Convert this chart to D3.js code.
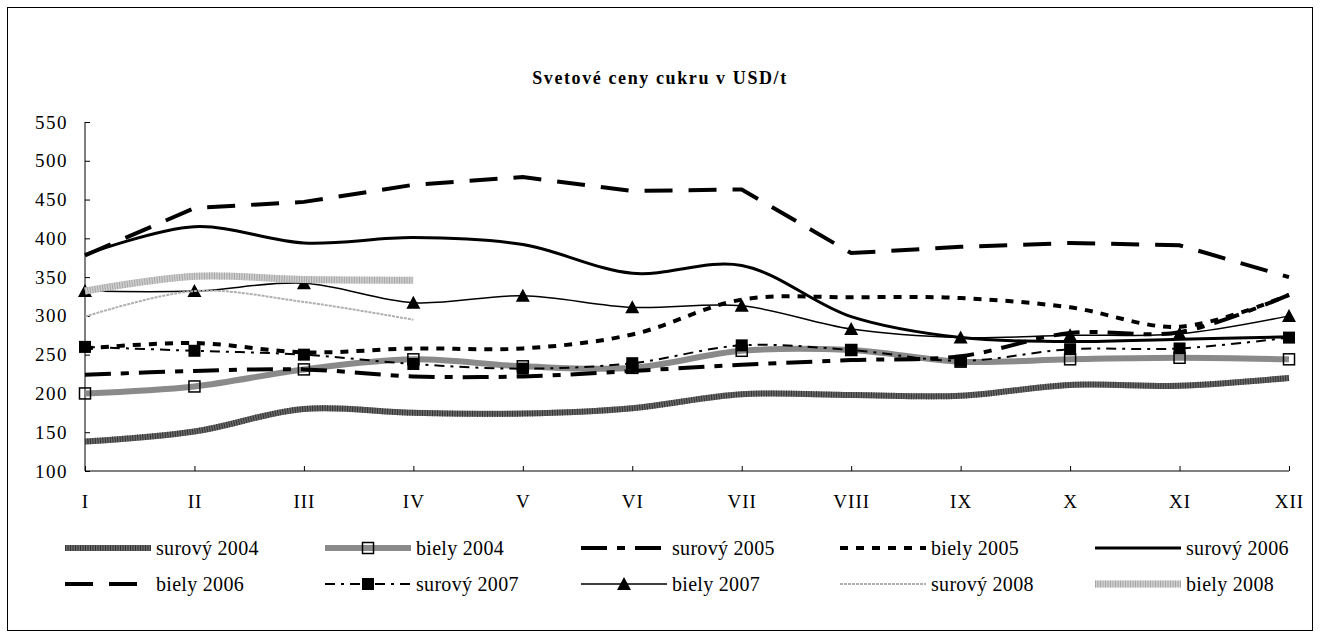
<!DOCTYPE html>
<html>
<head>
<meta charset="utf-8">
<script src="https://cdn.jsdelivr.net/npm/d3@7"></script>
<style>
  body { margin: 0; background: #fff; }
  text { font-family: "Liberation Serif", "Times New Roman", Times, serif; fill: #000; }
</style>
</head>
<body>
<svg width="1320" height="638"></svg>
<script>
"use strict";

var serif = "'Liberation Serif', 'Times New Roman', Times, serif";

// Months (x categories)
var months = ["I", "II", "III", "IV", "V", "VI", "VII", "VIII", "IX", "X", "XI", "XII"];

// Y axis ticks
var yTicks = [100, 150, 200, 250, 300, 350, 400, 450, 500, 550];

// Series values (USD/t)
var surovy2004 = [138, 151, 180, 175, 174, 181, 199, 198, 197, 211, 210, 220];
var biely2004  = [200, 209, 231, 244, 235, 233, 255, 256, 241, 244, 246, 244];
var surovy2005 = [224, 229, 231, 222, 222, 229, 237, 243, 248, 278, 279, 327];
var biely2005  = [258, 265, 253, 258, 258, 276, 321, 324, 323, 311, 286, 327];
var surovy2006 = [379, 415, 394, 401, 392, 355, 365, 299, 272, 267, 270, 273];
var biely2006  = [378, 439, 447, 469, 479, 461, 463, 381, 389, 394, 391, 350];
var surovy2007 = [260, 255, 250, 238, 232, 239, 262, 256, 242, 257, 258, 272];
var biely2007  = [332, 332, 342, 317, 326, 311, 313, 283, 272, 275, 277, 300];
var surovy2008 = [299, 332, 318, 295];
var biely2008  = [332, 351, 347, 346];

var seriesNames = ["surový 2004", "biely 2004", "surový 2005", "biely 2005", "surový 2006",
                   "biely 2006", "surový 2007", "biely 2007", "surový 2008", "biely 2008"];
var seriesValues = [surovy2004, biely2004, surovy2005, biely2005, surovy2006,
                    biely2006, surovy2007, biely2007, surovy2008, biely2008];

// Line styles, one per series (same order)
var styles = [
    { stroke: "#6a6a6a", width: 6, hatch: "#333" },
    { stroke: "#8a8a8a", width: 6, marker: "openSquare" },
    { stroke: "#000", width: 4, dash: "26,10,8,10" },
    { stroke: "#000", width: 4, dash: "8,8" },
    { stroke: "#000", width: 3 },
    { stroke: "#000", width: 4, dash: "28,16", linear: true },
    { stroke: "#000", width: 2, dash: "10,6,3,6", marker: "square" },
    { stroke: "#000", width: 1.5, marker: "triangle" },
    { stroke: "#b0b0b0", width: 2, dash: "3,1" },
    { stroke: "#cfcfcf", width: 7, hatch: "#a6a6a6" }
];

var svg = d3.select("svg");

// Outer border
svg.append("rect")
    .attr("x", 7.5).attr("y", 7.5)
    .attr("width", 1305).attr("height", 623)
    .attr("fill", "none")
    .attr("stroke", "#000")
    .attr("stroke-width", 1);

// Title
svg.append("text")
    .attr("x", 660).attr("y", 84)
    .attr("text-anchor", "middle")
    .style("font-family", serif)
    .style("font-size", "18px")
    .style("font-weight", "bold")
    .style("letter-spacing", "1.6px")
    .text("Svetové ceny cukru v USD/t");

// Scales
var x = d3.scalePoint()
    .domain(months)
    .range([85, 1289]);

var y = d3.scaleLinear()
    .domain([100, 550])
    .range([471, 122]);

// Y axis
var yAxis = d3.axisLeft(y)
    .tickValues(yTicks)
    .tickSize(-5)
    .tickPadding(17);

var gy = svg.append("g")
    .attr("transform", "translate(85,0)")
    .call(yAxis);
gy.select(".domain").attr("d", "M0," + y(100) + "V" + y(550));
gy.selectAll("text")
    .style("font-family", serif)
    .style("font-size", "19px")
    .style("letter-spacing", "1.5px");

// X axis
var xAxis = d3.axisBottom(x)
    .tickSize(-5)
    .tickPadding(24);

var gx = svg.append("g")
    .attr("transform", "translate(0," + y(100) + ")")
    .call(xAxis);
gx.select(".domain").attr("d", "M85,0H1289");
gx.selectAll("text")
    .style("font-family", serif)
    .style("font-size", "19px")
    .style("letter-spacing", "1px");

// Markers
function drawMarker(g, type, cx, cy) {
    if (type === "openSquare") {
        g.append("rect")
            .attr("x", cx - 5.5).attr("y", cy - 5.5)
            .attr("width", 11).attr("height", 11)
            .attr("fill", "none")
            .attr("stroke", "#000")
            .attr("stroke-width", 1.5);
    } else if (type === "square") {
        g.append("rect")
            .attr("x", cx - 6).attr("y", cy - 6)
            .attr("width", 12).attr("height", 12)
            .attr("fill", "#000");
    } else if (type === "triangle") {
        g.append("path")
            .attr("d", "M" + cx + "," + (cy - 7) + "L" + (cx + 7) + "," + (cy + 6) + "L" + (cx - 7) + "," + (cy + 6) + "Z")
            .attr("fill", "#000");
    }
}

// Draw series
var plot = svg.append("g").attr("class", "series");

seriesValues.forEach(function(vals, i) {
    var st = styles[i];
    var line = d3.line()
        .x(function(d, j) { return x(months[j]); })
        .y(function(d) { return y(d); })
        .curve(st.linear ? d3.curveLinear : d3.curveCatmullRom.alpha(0.5));

    var g = plot.append("g");
    g.append("path")
        .attr("d", line(vals))
        .attr("fill", "none")
        .attr("stroke", st.stroke)
        .attr("stroke-width", st.width)
        .attr("stroke-dasharray", st.dash || null);

    if (st.hatch) {
        g.append("path")
            .attr("d", line(vals))
            .attr("fill", "none")
            .attr("stroke", st.hatch)
            .attr("stroke-width", st.width)
            .attr("stroke-dasharray", "1,1.5");
    }

    if (st.marker) {
        vals.forEach(function(v, j) {
            drawMarker(g, st.marker, x(months[j]), y(v));
        });
    }
});

// Legend
var legendCols = [65, 325, 581, 840, 1095];
var legendRows = [548, 584];
var legend = svg.append("g").attr("class", "legend");

seriesNames.forEach(function(name, i) {
    var st = styles[i];
    var lx = legendCols[i % 5];
    var ly = legendRows[Math.floor(i / 5)];
    var g = legend.append("g");

    g.append("line")
        .attr("x1", lx).attr("x2", lx + 86)
        .attr("y1", ly).attr("y2", ly)
        .attr("stroke", st.stroke)
        .attr("stroke-width", st.width)
        .attr("stroke-dasharray", st.dash || null);

    if (st.hatch) {
        g.append("line")
            .attr("x1", lx).attr("x2", lx + 86)
            .attr("y1", ly).attr("y2", ly)
            .attr("stroke", st.hatch)
            .attr("stroke-width", st.width)
            .attr("stroke-dasharray", "1,1.5");
    }

    if (st.marker) {
        drawMarker(g, st.marker, lx + 43, ly);
    }

    g.append("text")
        .attr("x", lx + 91)
        .attr("y", ly)
        .attr("dy", "0.35em")
        .style("font-family", serif)
        .style("font-size", "20px")
        .style("letter-spacing", "0.3px")
        .text(name);
});
</script>
</body>
</html>
